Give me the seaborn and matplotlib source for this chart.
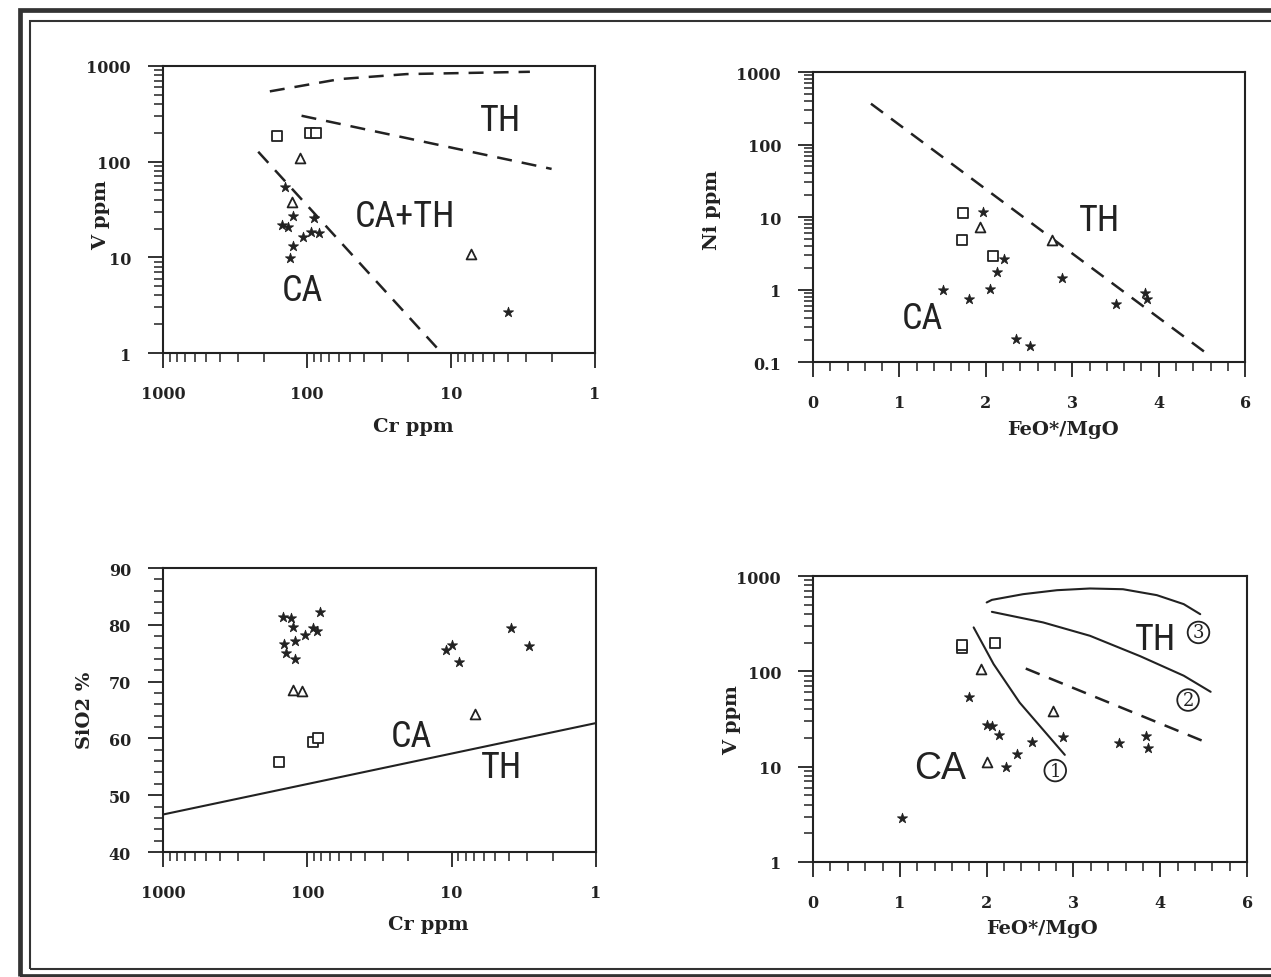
import matplotlib
matplotlib.use("Agg")
import numpy as np
import pandas as pd
import matplotlib.pyplot as plt
import seaborn as sns
from matplotlib import font_manager as fm
from matplotlib.ticker import FixedLocator, MultipleLocator, NullFormatter, LogLocator
from matplotlib.patches import Rectangle

# ---------------- data ----------------
# panel A : V ppm vs Cr ppm
a_star_cr = [142, 89, 124, 150, 135, 106, 93, 83, 124, 131, 4.0]
a_star_v = [55, 26, 27, 22, 21, 16.4, 18.3, 17.9, 13.2, 9.8, 2.7]
a_sq_cr = [162, 95, 87]
a_sq_v = [184, 199, 199]
a_tri_cr = [112, 128, 7.2]
a_tri_v = [109, 38, 10.8]
a_upper_cr = [181, 59, 20.3, 2.83]
a_upper_v = [543, 730, 823, 870]
a_mid_cr = [109, 2.0]
a_mid_v = [302, 84]
a_low_cr = [218, 11.6]
a_low_v = [127, 1.0]

# panel B : Ni ppm vs FeO*/MgO
b_star_fm = [1.97, 2.21, 2.13, 1.50, 1.80, 2.05, 2.88, 3.51, 3.84, 3.87, 2.35, 2.51]
b_star_ni = [11.9, 2.6, 1.74, 0.99, 0.75, 1.03, 1.44, 0.64, 0.90, 0.75, 0.21, 0.164]
b_sq_fm = [1.73, 1.72, 2.08]
b_sq_ni = [11.4, 4.8, 2.9]
b_tri_fm = [1.93, 2.76]
b_tri_ni = [7.4, 4.75]
b_line_fm = [0.67, 4.56]
b_line_ni = [366, 0.13]

# panel C : SiO2 % vs Cr ppm
c_star_cr = [147, 129, 126, 81, 91, 86, 103, 121, 144, 140, 121, 11.0, 9.9, 8.9, 3.9, 2.9]
c_star_si = [81.3, 81.2, 79.7, 82.3, 79.4, 78.9, 78.2, 77.2, 76.6, 75.1, 73.9, 75.6, 76.5, 73.5, 79.4, 76.2]
c_sq_cr = [156, 92, 84]
c_sq_si = [55.8, 59.3, 60.1]
c_tri_cr = [126, 109, 6.9]
c_tri_si = [68.5, 68.4, 64.3]
c_line_cr = [1000, 1]
c_line_si = [46.6, 62.7]

# panel D : V ppm vs FeO*/MgO
d_star_fm = [1.80, 2.00, 2.06, 2.14, 2.52, 2.35, 2.22, 2.88, 3.52, 3.84, 3.86, 1.03]
d_star_v = [54, 27.4, 26.9, 21.7, 18.1, 13.6, 9.9, 20.7, 17.8, 20.9, 15.7, 2.9]
d_sq_fm = [1.72, 1.72, 2.10]
d_sq_v = [176, 190, 198]
d_tri_fm = [1.93, 2.76, 2.00]
d_tri_v = [107, 38, 11.3]
d_line1_fm = [1.85, 2.08, 2.38, 2.90]
d_line1_v = [289, 119, 47, 13.3]
d_line2_fm = [2.06, 2.65, 3.19, 3.77, 4.27, 4.58]
d_line2_v = [421, 326, 236, 144, 90, 61]
d_line3_fm = [2.00, 2.06, 2.42, 2.81, 3.19, 3.57, 3.96, 4.27, 4.46]
d_line3_v = [528, 562, 645, 710, 740, 727, 630, 507, 398]
d_dash_fm = [2.45, 4.51]
d_dash_v = [107, 18.3]

fm_ticks = [0, 1, 2, 3, 4, 5]
fm_labels = ["0", "1", "2", "3", "4", "6"]

# ---------------- style ----------------
sns.set_style("ticks")
plt.rcParams["font.family"] = ["DejaVu Serif"]
INK = "#222222"

avail = {f.name for f in fm.fontManager.ttflist}
narrow = next((n for n in ["Liberation Sans Narrow", "Roboto Condensed",
                           "Open Sans Condensed", "Arial Narrow"] if n in avail), None)
if narrow is None:
    cond = [f.name for f in fm.fontManager.ttflist if "condensed" in str(f.stretch)]
    narrow = cond[0] if cond else None
NARROW = dict(family=narrow, fontstretch="condensed", fontsize=26) if narrow \
    else dict(family="Liberation Sans", fontsize=22)

fig = plt.figure(figsize=(12.71, 9.78), dpi=100)
axA = fig.add_axes([0.1282, 0.6380, 0.3399, 0.2935])
axB = fig.add_axes([0.6397, 0.6288, 0.3399, 0.2965])
axC = fig.add_axes([0.1282, 0.1278, 0.3407, 0.2904])
axD = fig.add_axes([0.6397, 0.1176, 0.3415, 0.2924])


def points(ax, xs, ys, kind):
    df = pd.DataFrame({"x": xs, "y": ys})
    if kind == "star":
        sns.scatterplot(data=df, x="x", y="y", ax=ax, marker="*", s=58,
                        color=INK, edgecolor=INK, linewidth=0.6, zorder=3)
    elif kind == "square":
        sns.scatterplot(data=df, x="x", y="y", ax=ax, marker="s", s=46,
                        facecolor="white", edgecolor=INK, linewidth=1.3, zorder=3)
    else:
        sns.scatterplot(data=df, x="x", y="y", ax=ax, marker="^", s=50,
                        facecolor="white", edgecolor=INK, linewidth=1.3, zorder=3)


def boundary(ax, xs, ys, dashed=False):
    df = pd.DataFrame({"x": xs, "y": ys})
    kw = dict(linestyle=(0, (6, 4))) if dashed else {}
    sns.lineplot(data=df, x="x", y="y", ax=ax, color=INK, lw=1.8 if dashed else 1.5,
                 sort=False, estimator=None, zorder=2, **kw)


def frame(ax):
    for sp in ax.spines.values():
        sp.set_visible(True)
        sp.set_linewidth(1.5)
        sp.set_color(INK)
    ax.tick_params(which="major", direction="out", length=11, width=1.3, pad=12,
                   labelsize=11.5, colors=INK)
    ax.tick_params(which="minor", direction="out", length=6.5, width=1.1, colors=INK)
    for lab in ax.get_xticklabels() + ax.get_yticklabels():
        lab.set_fontweight("bold")


def log_y(ax, lo, hi, ticks, labels):
    ax.set_yscale("log")
    ax.set_ylim(lo, hi)
    ax.yaxis.set_major_locator(FixedLocator(ticks))
    ax.set_yticklabels(labels)
    ax.yaxis.set_minor_locator(LogLocator(base=10, subs=np.arange(2, 10)))
    ax.yaxis.set_minor_formatter(NullFormatter())


def cr_x(ax):
    ax.set_xscale("log")
    ax.set_xlim(1000, 1)
    ax.xaxis.set_major_locator(FixedLocator([1000, 100, 10, 1]))
    ax.set_xticklabels(["1000", "100", "10", "1"])
    ax.xaxis.set_minor_locator(LogLocator(base=10, subs=np.arange(2, 10)))
    ax.xaxis.set_minor_formatter(NullFormatter())


def fm_x(ax):
    ax.set_xlim(0, 5)
    ax.xaxis.set_major_locator(FixedLocator(fm_ticks))
    ax.set_xticklabels(fm_labels)
    ax.xaxis.set_minor_locator(MultipleLocator(0.2))


def circled(ax, x, y, s):
    ax.text(x, y, s, ha="center", va="center", fontsize=13, color=INK,
            bbox=dict(boxstyle="circle,pad=0.1", fc="white", ec=INK, lw=1.3))


LABEL = dict(fontsize=14, fontweight="bold", color=INK)

# ---- panel A
boundary(axA, a_upper_cr, a_upper_v, dashed=True)
boundary(axA, a_mid_cr, a_mid_v, dashed=True)
boundary(axA, a_low_cr, a_low_v, dashed=True)
points(axA, a_star_cr, a_star_v, "star")
points(axA, a_sq_cr, a_sq_v, "square")
points(axA, a_tri_cr, a_tri_v, "tri")
cr_x(axA)
log_y(axA, 1, 1000, [1, 10, 100, 1000], ["1", "10", "100", "1000"])
axA.text(4.5, 270, "TH", ha="center", va="center", color=INK, **NARROW)
axA.text(21, 27, "CA+TH", ha="center", va="center", color=INK, **NARROW)
axA.text(108, 4.6, "CA", ha="center", va="center", color=INK, **NARROW)
axA.set_xlabel("Cr ppm", **LABEL)
axA.set_ylabel("V ppm", **LABEL)
axA.xaxis.set_label_coords(0.579, -0.222)
axA.yaxis.set_label_coords(-0.122, 0.484)

# ---- panel B
boundary(axB, b_line_fm, b_line_ni, dashed=True)
points(axB, b_star_fm, b_star_ni, "star")
points(axB, b_sq_fm, b_sq_ni, "square")
points(axB, b_tri_fm, b_tri_ni, "tri")
fm_x(axB)
log_y(axB, 0.1, 1000, [0.1, 1, 10, 100, 1000], ["0.1", "1", "10", "100", "1000"])
axB.text(3.32, 9, "TH", ha="center", va="center", color=INK, **NARROW)
axB.text(1.26, 0.40, "CA", ha="center", va="center", color=INK, **NARROW)
axB.set_xlabel("FeO*/MgO", **LABEL)
axB.set_ylabel("Ni ppm", **LABEL)
axB.xaxis.set_label_coords(0.579, -0.2)
axB.yaxis.set_label_coords(-0.212, 0.528)

# ---- panel C
boundary(axC, c_line_cr, c_line_si)
points(axC, c_star_cr, c_star_si, "star")
points(axC, c_sq_cr, c_sq_si, "square")
points(axC, c_tri_cr, c_tri_si, "tri")
cr_x(axC)
axC.set_ylim(40, 90)
axC.yaxis.set_major_locator(FixedLocator([40, 50, 60, 70, 80, 90]))
axC.yaxis.set_minor_locator(MultipleLocator(2))
axC.text(19, 60.5, "CA", ha="center", va="center", color=INK, **NARROW)
axC.text(4.5, 55, "TH", ha="center", va="center", color=INK, **NARROW)
axC.set_xlabel("Cr ppm", **LABEL)
axC.set_ylabel("SiO2 %", **LABEL)
axC.xaxis.set_label_coords(0.612, -0.222)
axC.yaxis.set_label_coords(-0.16, 0.503)

# ---- panel D
boundary(axD, d_line1_fm, d_line1_v)
boundary(axD, d_line2_fm, d_line2_v)
boundary(axD, d_line3_fm, d_line3_v)
boundary(axD, d_dash_fm, d_dash_v, dashed=True)
points(axD, d_star_fm, d_star_v, "star")
points(axD, d_sq_fm, d_sq_v, "square")
points(axD, d_tri_fm, d_tri_v, "tri")
fm_x(axD)
log_y(axD, 1, 1000, [1, 10, 100, 1000], ["1", "10", "100", "1000"])
axD.text(3.94, 218, "TH", ha="center", va="center", color=INK, **NARROW)
axD.text(1.46, 9.6, "CA", ha="center", va="center", color=INK,
         family="Liberation Sans", fontsize=27)
circled(axD, 4.44, 256, "3")
circled(axD, 4.32, 50, "2")
circled(axD, 2.79, 9.1, "1")
axD.set_xlabel("FeO*/MgO", **LABEL)
axD.set_ylabel("V ppm", **LABEL)
axD.xaxis.set_label_coords(0.528, -0.2)
axD.yaxis.set_label_coords(-0.165, 0.5)

for ax in (axA, axB, axC, axD):
    frame(ax)

# page border of the scan (double line running off the right / bottom edge)
fig.add_artist(Rectangle((20 / 1271, 1.5 / 978), 1.2, 965.5 / 978, transform=fig.transFigure,
                         fill=False, ec="#333333", lw=3.4))
fig.add_artist(Rectangle((30 / 1271, 8.5 / 978), 1.2, 948 / 978, transform=fig.transFigure,
                         fill=False, ec="#333333", lw=1.5))

fig.savefig("out.png", dpi=100)
